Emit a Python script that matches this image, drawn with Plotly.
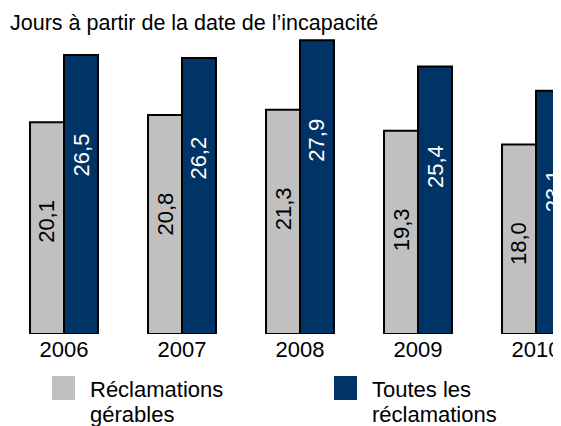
import plotly.graph_objects as go

# data
years = ["2006", "2007", "2008", "2009", "2010"]
gerables = [20.1, 20.8, 21.3, 19.3, 18.0]
toutes = [26.5, 26.2, 27.9, 25.4, 23.1]

gris = "#c0c0c0"
bleu = "#003366"
police = "Arial, Liberation Sans, sans-serif"

W, H = 561, 426
OFF = 8  # page body margin
T, B = 30 - OFF, H - 334 + OFF


def py(y_px):
    # reference pixel row -> paper y
    return (H - B - (y_px - OFF)) / (H - T - B)


def px(x_px):
    return (x_px - OFF) / W


def fr(v):
    return f"{v:.1f}".replace(".", ",")


x = list(range(len(years)))
fig = go.Figure()
fig.add_trace(go.Bar(x=x, y=gerables, name="Réclamations gérables",
                     marker=dict(color=gris, line=dict(color="black", width=2))))
fig.add_trace(go.Bar(x=x, y=toutes, name="Toutes les réclamations",
                     marker=dict(color=bleu, line=dict(color="black", width=2))))

bargap = 0.424
half = (1 - bargap) / 4

# value labels, rotated inside bars
for i, v in enumerate(gerables):
    fig.add_annotation(x=i - half, y=v, text=fr(v), showarrow=False, textangle=-90,
                       yanchor="top", yshift=-76, font=dict(size=22, color="black", family=police))
for i, v in enumerate(toutes):
    fig.add_annotation(x=i + half, y=v, text=fr(v), showarrow=False, textangle=-90,
                       yanchor="top", yshift=-76, font=dict(size=22, color="white", family=police))

# title
fig.add_annotation(xref="paper", yref="paper", x=px(8), y=py(23), xanchor="left", yanchor="middle",
                   text="Jours à partir de la date de l’incapacité", showarrow=False,
                   font=dict(size=21.5, color="black", family=police))

# legend, drawn by hand
legende = [(52, gris, ["Réclamations", "gérables"]), (334, bleu, ["Toutes les", "réclamations"])]
for x0, c, lignes in legende:
    fig.add_shape(type="rect", xref="paper", yref="paper", x0=px(x0), x1=px(x0 + 23),
                  y0=py(400), y1=py(376), fillcolor=c, line=dict(width=0))
    for k, l in enumerate(lignes):
        fig.add_annotation(xref="paper", yref="paper", x=px(x0 + 36), y=py(389 + 25 * k),
                           xanchor="left", yanchor="middle", text=l, showarrow=False,
                           font=dict(size=22, color="black", family=police))

fig.update_layout(
    width=W, height=H,
    margin=dict(l=0, r=0, t=T, b=B),
    barmode="group", bargap=bargap, bargroupgap=0,
    plot_bgcolor="white", paper_bgcolor="white",
    showlegend=False,
    font=dict(family=police, size=22, color="black"),
)
fig.update_xaxes(range=[(OFF - 64) / 118, (W + OFF - 64) / 118], tickvals=x, ticktext=years,
                 showgrid=False, zeroline=False, showline=False, ticks="",
                 tickfont=dict(size=22))
fig.update_yaxes(range=[0, (H - T - B) / 10.53], visible=False)

fig.write_html("out.html")
